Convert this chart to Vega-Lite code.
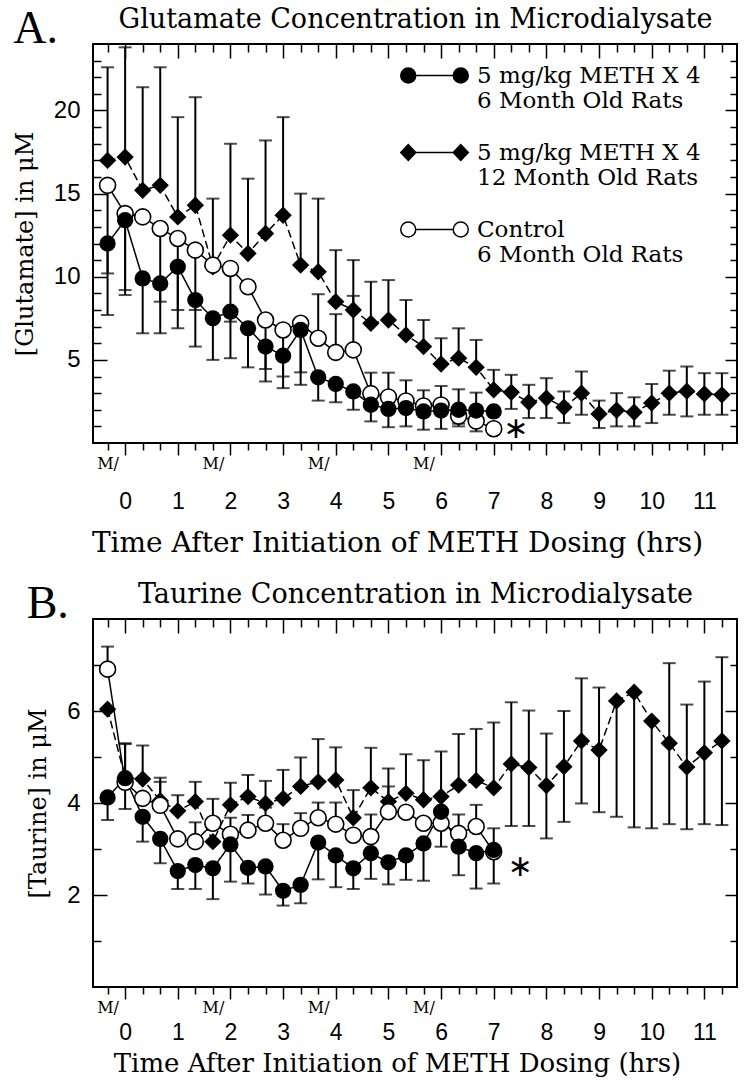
{
  "$schema": "https://vega.github.io/schema/vega-lite/v6.json",
  "background": "white",
  "padding": {"left": 12, "top": 4, "right": 0, "bottom": 0},
  "spacing": 21,
  "resolve": {"legend": {"shape": "independent", "fill": "independent"}},
  "config": {
    "view": {"stroke": "black", "strokeWidth": 2},
    "font": "DejaVu Serif"
  },
  "datasets": {
    "glu": [
      {"s":"m12","t":-0.3333,"v":17.0,"lo":17.0,"hi":22.6},
      {"s":"m12","t":0,"v":17.2,"lo":17.2,"hi":23.8},
      {"s":"m12","t":0.3333,"v":15.2,"lo":15.2,"hi":21.4},
      {"s":"m12","t":0.6667,"v":15.5,"lo":15.5,"hi":22.6},
      {"s":"m12","t":1,"v":13.6,"lo":13.6,"hi":19.6},
      {"s":"m12","t":1.3333,"v":14.3,"lo":14.3,"hi":20.8},
      {"s":"m12","t":1.6667,"v":10.6,"lo":10.6,"hi":14.7},
      {"s":"m12","t":2,"v":12.5,"lo":12.5,"hi":18.0},
      {"s":"m12","t":2.3333,"v":11.4,"lo":11.4,"hi":15.9},
      {"s":"m12","t":2.6667,"v":12.6,"lo":12.6,"hi":18.2},
      {"s":"m12","t":3,"v":13.7,"lo":13.7,"hi":19.6},
      {"s":"m12","t":3.3333,"v":10.7,"lo":10.7,"hi":15.0},
      {"s":"m12","t":3.6667,"v":10.3,"lo":10.3,"hi":14.7},
      {"s":"m12","t":4,"v":8.5,"lo":8.5,"hi":11.6},
      {"s":"m12","t":4.3333,"v":8.0,"lo":8.0,"hi":11.0},
      {"s":"m12","t":4.6667,"v":7.2,"lo":7.2,"hi":9.7},
      {"s":"m12","t":5,"v":7.4,"lo":7.4,"hi":9.8},
      {"s":"m12","t":5.3333,"v":6.5,"lo":6.5,"hi":8.6},
      {"s":"m12","t":5.6667,"v":5.8,"lo":5.8,"hi":7.4},
      {"s":"m12","t":6,"v":4.75,"lo":4.75,"hi":6.3},
      {"s":"m12","t":6.3333,"v":5.1,"lo":5.1,"hi":6.9},
      {"s":"m12","t":6.6667,"v":4.55,"lo":4.55,"hi":6.2},
      {"s":"m12","t":7,"v":3.2,"lo":3.2,"hi":4.4},
      {"s":"m12","t":7.3333,"v":3.05,"lo":2.05,"hi":4.1},
      {"s":"m12","t":7.6667,"v":2.45,"lo":1.5,"hi":3.5},
      {"s":"m12","t":8,"v":2.7,"lo":1.5,"hi":3.9},
      {"s":"m12","t":8.3333,"v":2.15,"lo":1.2,"hi":3.1},
      {"s":"m12","t":8.6667,"v":3.0,"lo":1.7,"hi":4.3},
      {"s":"m12","t":9,"v":1.75,"lo":0.9,"hi":2.55},
      {"s":"m12","t":9.3333,"v":1.97,"lo":1.0,"hi":3.0},
      {"s":"m12","t":9.6667,"v":1.85,"lo":1.0,"hi":2.75},
      {"s":"m12","t":10,"v":2.4,"lo":1.2,"hi":3.55},
      {"s":"m12","t":10.3333,"v":3.0,"lo":1.7,"hi":4.35},
      {"s":"m12","t":10.6667,"v":3.12,"lo":1.6,"hi":4.6},
      {"s":"m12","t":11,"v":2.95,"lo":1.7,"hi":4.2},
      {"s":"m12","t":11.3333,"v":2.9,"lo":1.7,"hi":4.2},
      {"s":"m6","t":-0.3333,"v":12.0,"lo":7.7,"hi":12.0},
      {"s":"m6","t":0,"v":13.4,"lo":8.9,"hi":13.4},
      {"s":"m6","t":0.3333,"v":9.9,"lo":6.6,"hi":9.9},
      {"s":"m6","t":0.6667,"v":9.6,"lo":6.6,"hi":9.6},
      {"s":"m6","t":1,"v":10.6,"lo":6.9,"hi":10.6},
      {"s":"m6","t":1.3333,"v":8.6,"lo":5.8,"hi":8.6},
      {"s":"m6","t":1.6667,"v":7.5,"lo":5.0,"hi":7.5},
      {"s":"m6","t":2,"v":7.9,"lo":5.1,"hi":7.9},
      {"s":"m6","t":2.3333,"v":6.9,"lo":4.55,"hi":6.9},
      {"s":"m6","t":2.6667,"v":5.8,"lo":3.7,"hi":5.8},
      {"s":"m6","t":3,"v":5.25,"lo":3.3,"hi":5.25},
      {"s":"m6","t":3.3333,"v":6.8,"lo":3.5,"hi":6.8},
      {"s":"m6","t":3.6667,"v":3.95,"lo":2.55,"hi":3.95},
      {"s":"m6","t":4,"v":3.55,"lo":2.45,"hi":3.55},
      {"s":"m6","t":4.3333,"v":3.1,"lo":2.0,"hi":3.1},
      {"s":"m6","t":4.6667,"v":2.3,"lo":1.3,"hi":2.3},
      {"s":"m6","t":5,"v":2.05,"lo":0.95,"hi":2.05},
      {"s":"m6","t":5.3333,"v":2.1,"lo":1.0,"hi":2.1},
      {"s":"m6","t":5.6667,"v":1.9,"lo":0.8,"hi":1.9},
      {"s":"m6","t":6,"v":1.95,"lo":0.85,"hi":1.95},
      {"s":"m6","t":6.3333,"v":2.0,"lo":1.0,"hi":2.0},
      {"s":"m6","t":6.6667,"v":1.95,"lo":0.7,"hi":1.95},
      {"s":"m6","t":7,"v":1.9,"lo":1.9,"hi":1.9},
      {"s":"ctl","t":-0.3333,"v":15.5,"lo":10.2,"hi":15.5},
      {"s":"ctl","t":0,"v":13.8,"lo":9.2,"hi":13.8},
      {"s":"ctl","t":0.3333,"v":13.6,"lo":13.6,"hi":13.6},
      {"s":"ctl","t":0.6667,"v":12.9,"lo":8.5,"hi":12.9},
      {"s":"ctl","t":1,"v":12.3,"lo":8.0,"hi":12.3},
      {"s":"ctl","t":1.3333,"v":11.6,"lo":8.0,"hi":11.6},
      {"s":"ctl","t":1.6667,"v":10.7,"lo":10.7,"hi":10.7},
      {"s":"ctl","t":2,"v":10.5,"lo":7.3,"hi":10.5},
      {"s":"ctl","t":2.3333,"v":9.4,"lo":9.4,"hi":9.4},
      {"s":"ctl","t":2.6667,"v":7.4,"lo":4.45,"hi":7.4},
      {"s":"ctl","t":3,"v":6.8,"lo":4.0,"hi":6.8},
      {"s":"ctl","t":3.3333,"v":7.2,"lo":4.25,"hi":7.2},
      {"s":"ctl","t":3.6667,"v":6.3,"lo":6.3,"hi":8.95},
      {"s":"ctl","t":4,"v":5.45,"lo":5.45,"hi":7.75},
      {"s":"ctl","t":4.3333,"v":5.6,"lo":5.6,"hi":8.85},
      {"s":"ctl","t":4.6667,"v":2.97,"lo":2.97,"hi":4.23},
      {"s":"ctl","t":5,"v":2.77,"lo":2.77,"hi":4.23},
      {"s":"ctl","t":5.3333,"v":2.53,"lo":2.53,"hi":3.77},
      {"s":"ctl","t":5.6667,"v":2.23,"lo":2.23,"hi":3.17},
      {"s":"ctl","t":6,"v":2.29,"lo":2.29,"hi":3.43},
      {"s":"ctl","t":6.3333,"v":1.62,"lo":1.16,"hi":3.23},
      {"s":"ctl","t":6.6667,"v":1.32,"lo":1.32,"hi":3.03},
      {"s":"ctl","t":7,"v":0.86,"lo":0.86,"hi":0.86}
    ],
    "tau": [
      {"s":"m12","t":-0.3333,"v":6.04,"lo":6.04,"hi":6.04},
      {"s":"m12","t":0,"v":4.55,"lo":4.55,"hi":5.3},
      {"s":"m12","t":0.3333,"v":4.52,"lo":4.52,"hi":5.25},
      {"s":"m12","t":0.6667,"v":4.05,"lo":4.05,"hi":4.55},
      {"s":"m12","t":1,"v":3.83,"lo":3.83,"hi":4.17},
      {"s":"m12","t":1.3333,"v":4.03,"lo":4.03,"hi":4.46},
      {"s":"m12","t":1.6667,"v":3.16,"lo":3.16,"hi":3.16},
      {"s":"m12","t":2,"v":3.96,"lo":3.96,"hi":4.44},
      {"s":"m12","t":2.3333,"v":4.14,"lo":4.14,"hi":4.61},
      {"s":"m12","t":2.6667,"v":3.99,"lo":3.99,"hi":4.48},
      {"s":"m12","t":3,"v":4.1,"lo":4.1,"hi":4.72},
      {"s":"m12","t":3.3333,"v":4.36,"lo":4.36,"hi":4.99},
      {"s":"m12","t":3.6667,"v":4.46,"lo":4.46,"hi":5.39},
      {"s":"m12","t":4,"v":4.5,"lo":4.5,"hi":5.21},
      {"s":"m12","t":4.3333,"v":3.68,"lo":3.68,"hi":4.28},
      {"s":"m12","t":4.6667,"v":4.33,"lo":4.33,"hi":5.2},
      {"s":"m12","t":5,"v":4.03,"lo":4.03,"hi":4.75},
      {"s":"m12","t":5.3333,"v":4.21,"lo":4.21,"hi":5.06},
      {"s":"m12","t":5.6667,"v":4.07,"lo":4.07,"hi":4.93},
      {"s":"m12","t":6,"v":4.14,"lo":4.14,"hi":5.12},
      {"s":"m12","t":6.3333,"v":4.39,"lo":4.39,"hi":5.5},
      {"s":"m12","t":6.6667,"v":4.49,"lo":4.49,"hi":5.61},
      {"s":"m12","t":7,"v":4.33,"lo":4.33,"hi":5.75},
      {"s":"m12","t":7.3333,"v":4.85,"lo":3.5,"hi":6.19},
      {"s":"m12","t":7.6667,"v":4.77,"lo":3.5,"hi":6.01},
      {"s":"m12","t":8,"v":4.38,"lo":3.23,"hi":5.51},
      {"s":"m12","t":8.3333,"v":4.79,"lo":3.59,"hi":6.0},
      {"s":"m12","t":8.6667,"v":5.35,"lo":3.99,"hi":6.71},
      {"s":"m12","t":9,"v":5.15,"lo":3.8,"hi":6.51},
      {"s":"m12","t":9.3333,"v":6.22,"lo":3.7,"hi":6.22},
      {"s":"m12","t":9.6667,"v":6.41,"lo":3.47,"hi":6.41},
      {"s":"m12","t":10,"v":5.78,"lo":3.45,"hi":5.78},
      {"s":"m12","t":10.3333,"v":5.3,"lo":3.54,"hi":7.04},
      {"s":"m12","t":10.6667,"v":4.78,"lo":3.43,"hi":6.14},
      {"s":"m12","t":11,"v":5.09,"lo":3.54,"hi":6.64},
      {"s":"m12","t":11.3333,"v":5.35,"lo":3.52,"hi":7.17},
      {"s":"m6","t":-0.3333,"v":4.12,"lo":3.63,"hi":4.12},
      {"s":"m6","t":0,"v":4.54,"lo":3.87,"hi":4.54},
      {"s":"m6","t":0.3333,"v":3.7,"lo":3.16,"hi":3.7},
      {"s":"m6","t":0.6667,"v":3.22,"lo":2.69,"hi":3.22},
      {"s":"m6","t":1,"v":2.52,"lo":2.13,"hi":2.52},
      {"s":"m6","t":1.3333,"v":2.65,"lo":2.13,"hi":2.65},
      {"s":"m6","t":1.6667,"v":2.58,"lo":1.91,"hi":2.58},
      {"s":"m6","t":2,"v":3.1,"lo":2.29,"hi":3.1},
      {"s":"m6","t":2.3333,"v":2.59,"lo":2.25,"hi":2.59},
      {"s":"m6","t":2.6667,"v":2.62,"lo":2.01,"hi":2.62},
      {"s":"m6","t":3,"v":2.09,"lo":1.77,"hi":2.09},
      {"s":"m6","t":3.3333,"v":2.22,"lo":1.82,"hi":2.22},
      {"s":"m6","t":3.6667,"v":3.14,"lo":2.34,"hi":3.14},
      {"s":"m6","t":4,"v":2.86,"lo":2.17,"hi":2.86},
      {"s":"m6","t":4.3333,"v":2.58,"lo":2.13,"hi":2.58},
      {"s":"m6","t":4.6667,"v":2.91,"lo":2.35,"hi":2.91},
      {"s":"m6","t":5,"v":2.71,"lo":2.23,"hi":2.71},
      {"s":"m6","t":5.3333,"v":2.86,"lo":2.33,"hi":2.86},
      {"s":"m6","t":5.6667,"v":3.12,"lo":2.31,"hi":3.12},
      {"s":"m6","t":6,"v":3.81,"lo":3.05,"hi":3.81},
      {"s":"m6","t":6.3333,"v":3.05,"lo":2.43,"hi":3.05},
      {"s":"m6","t":6.6667,"v":2.91,"lo":2.14,"hi":2.91},
      {"s":"m6","t":7,"v":2.98,"lo":2.25,"hi":2.98},
      {"s":"ctl","t":-0.3333,"v":6.91,"lo":6.91,"hi":7.4},
      {"s":"ctl","t":0,"v":4.45,"lo":4.45,"hi":5.28},
      {"s":"ctl","t":0.3333,"v":4.1,"lo":4.1,"hi":4.1},
      {"s":"ctl","t":0.6667,"v":3.95,"lo":3.95,"hi":4.46},
      {"s":"ctl","t":1,"v":3.22,"lo":3.22,"hi":3.22},
      {"s":"ctl","t":1.3333,"v":3.16,"lo":3.16,"hi":3.58},
      {"s":"ctl","t":1.6667,"v":3.56,"lo":3.56,"hi":4.09},
      {"s":"ctl","t":2,"v":3.32,"lo":3.32,"hi":3.68},
      {"s":"ctl","t":2.3333,"v":3.41,"lo":3.41,"hi":3.74},
      {"s":"ctl","t":2.6667,"v":3.56,"lo":3.56,"hi":3.9},
      {"s":"ctl","t":3,"v":3.19,"lo":3.19,"hi":3.54},
      {"s":"ctl","t":3.3333,"v":3.45,"lo":3.45,"hi":3.78},
      {"s":"ctl","t":3.6667,"v":3.68,"lo":3.68,"hi":4.01},
      {"s":"ctl","t":4,"v":3.54,"lo":3.54,"hi":4.01},
      {"s":"ctl","t":4.3333,"v":3.3,"lo":3.3,"hi":3.3},
      {"s":"ctl","t":4.6667,"v":3.27,"lo":3.27,"hi":3.75},
      {"s":"ctl","t":5,"v":3.81,"lo":3.81,"hi":4.36},
      {"s":"ctl","t":5.3333,"v":3.8,"lo":3.8,"hi":3.8},
      {"s":"ctl","t":5.6667,"v":3.56,"lo":3.56,"hi":3.56},
      {"s":"ctl","t":6,"v":3.56,"lo":3.56,"hi":3.56},
      {"s":"ctl","t":6.3333,"v":3.34,"lo":3.34,"hi":3.75},
      {"s":"ctl","t":6.6667,"v":3.49,"lo":3.49,"hi":3.96},
      {"s":"ctl","t":7,"v":2.94,"lo":2.94,"hi":3.45}
    ],
    "notes": [
      {"p":"A","t":7.42,"v":0.85,"label":"∗"},
      {"p":"B","t":7.5,"v":2.6,"label":"∗"}
    ]
  },
  "vconcat": [
    {
      "title": {"text": "A.", "anchor": "start", "frame": "bounds", "font": "Liberation Serif", "fontSize": 46, "fontWeight": "normal", "color": "black", "offset": -48},
      "width": 644,
      "height": 399,
      "data": {"name": "glu"},
      "resolve": {"axis": {"x": "independent", "y": "independent"}},
      "layer": [
        {
          "mark": {"type": "line", "color": "black", "strokeWidth": 1.5},
          "encoding": {
            "x": {"field": "t", "type": "quantitative", "scale": {"domain": [-0.61, 11.62], "nice": false},
              "axis": {"orient": "bottom", "values": [-0.3333,0,0.3333,0.6667,1,1.3333,1.6667,2,2.3333,2.6667,3,3.3333,3.6667,4,4.3333,4.6667,5,5.3333,5.6667,6,6.3333,6.6667,7,7.3333,7.6667,8,8.3333,8.6667,9,9.3333,9.6667,10,10.3333,10.6667,11,11.3333],
                "domain": false, "grid": false,
                "tickSize": {"condition": {"test": "abs(datum.value - round(datum.value)) < 0.01", "value": 12}, "value": 7},
                "tickWidth": 1.5, "tickColor": "black",
                "labelExpr": "abs(datum.value - round(datum.value)) < 0.01 ? ['', format(datum.value, 'd')] : (abs(datum.value - round(datum.value) + 0.3333) < 0.01 && round(datum.value) % 2 == 0 && datum.value < 6) ? ['M/', ''] : ''",
                "labelFont": {"condition": {"test": "abs(datum.value - round(datum.value)) < 0.01", "value": "Liberation Sans"}, "value": "DejaVu Serif"},
                "labelFontSize": {"condition": {"test": "abs(datum.value - round(datum.value)) < 0.01", "value": 23}, "value": 16},
                "labelLineHeight": 30, "labelBaseline": "top", "labelAlign": "center", "labelPadding": 5,
                "labelOverlap": false, "labelFlush": false, "labelBound": false, "labelColor": "black",
                "title": "Time After Initiation of METH Dosing (hrs)", "titleFont": "DejaVu Serif", "titleFontSize": 28, "titleFontWeight": "normal", "titleColor": "black", "titlePadding": 16, "titleX": 304}},
            "y": {"field": "v", "type": "quantitative", "scale": {"domain": [0, 24], "nice": false},
              "axis": {"orient": "left", "values": [1,2,3,4,5,6,7,8,9,10,11,12,13,14,15,16,17,18,19,20,21,22,23],
                "domain": false, "grid": false,
                "tickSize": {"condition": {"test": "datum.value % 5 == 0", "value": -14}, "value": -8},
                "tickWidth": 1.5, "tickColor": "black",
                "labelExpr": "datum.value % 5 == 0 ? datum.label : ''",
                "labelPadding": 27, "labelFont": "Liberation Sans", "labelFontSize": 24, "labelColor": "black", "labelOverlap": false, "labelFlush": false,
                "title": "[Glutamate] in μM", "titleFont": "DejaVu Serif", "titleFontSize": 24, "titleFontWeight": "normal", "titleColor": "black", "titlePadding": 16}},
            "strokeDash": {"field": "s", "type": "nominal", "scale": {"domain": ["m6", "m12", "ctl"], "range": [[1, 0], [8, 4], [1, 0]]}, "legend": null}
          }
        },
        {
          "mark": {"type": "rule", "color": "black", "strokeWidth": 2},
          "encoding": {
            "x": {"field": "t", "type": "quantitative", "scale": {"domain": [-0.61, 11.62], "nice": false},
              "axis": {"orient": "top", "values": [-0.3333,0,0.3333,0.6667,1,1.3333,1.6667,2,2.3333,2.6667,3,3.3333,3.6667,4,4.3333,4.6667,5,5.3333,5.6667,6,6.3333,6.6667,7,7.3333,7.6667,8,8.3333,8.6667,9,9.3333,9.6667,10,10.3333,10.6667,11,11.3333],
                "domain": false, "grid": false, "labels": false,
                "tickSize": {"condition": {"test": "abs(datum.value - round(datum.value)) < 0.01", "value": -14}, "value": -8},
                "tickWidth": 1.5, "tickColor": "black",
                "title": "Glutamate Concentration in Microdialysate", "titleFont": "DejaVu Serif", "titleFontSize": 27, "titleFontWeight": "normal", "titleColor": "black", "titlePadding": 10}},
            "y": {"field": "lo", "type": "quantitative", "scale": {"domain": [0, 24], "nice": false},
              "axis": {"orient": "right", "values": [1,2,3,4,5,6,7,8,9,10,11,12,13,14,15,16,17,18,19,20,21,22,23],
                "domain": false, "grid": false, "labels": false, "title": null,
                "tickSize": {"condition": {"test": "datum.value % 5 == 0", "value": -12}, "value": -7},
                "tickWidth": 1.5, "tickColor": "black"}},
            "y2": {"field": "hi"}
          }
        },
        {
          "transform": [{"filter": "datum.hi > datum.v"}],
          "mark": {"type": "tick", "orient": "horizontal", "color": "black", "size": 13, "thickness": 2},
          "encoding": {
            "x": {"field": "t", "type": "quantitative", "axis": null, "scale": {"domain": [-0.61, 11.62], "nice": false}},
            "y": {"field": "hi", "type": "quantitative", "axis": null, "scale": {"domain": [0, 24], "nice": false}}
          }
        },
        {
          "transform": [{"filter": "datum.lo < datum.v"}],
          "mark": {"type": "tick", "orient": "horizontal", "color": "black", "size": 13, "thickness": 2},
          "encoding": {
            "x": {"field": "t", "type": "quantitative", "axis": null, "scale": {"domain": [-0.61, 11.62], "nice": false}},
            "y": {"field": "lo", "type": "quantitative", "axis": null, "scale": {"domain": [0, 24], "nice": false}}
          }
        },
        {
          "transform": [{"filter": "datum.s == 'm12'"}],
          "mark": {"type": "point", "shape": "diamond", "filled": true, "color": "black", "size": 300, "opacity": 1},
          "encoding": {
            "x": {"field": "t", "type": "quantitative", "axis": null, "scale": {"domain": [-0.61, 11.62], "nice": false}},
            "y": {"field": "v", "type": "quantitative", "axis": null, "scale": {"domain": [0, 24], "nice": false}}
          }
        },
        {
          "transform": [{"filter": "datum.s == 'ctl'"}],
          "mark": {"type": "point", "shape": "circle", "filled": true, "fill": "white", "stroke": "black", "strokeWidth": 1.6, "size": 255, "opacity": 1},
          "encoding": {
            "x": {"field": "t", "type": "quantitative", "axis": null, "scale": {"domain": [-0.61, 11.62], "nice": false}},
            "y": {"field": "v", "type": "quantitative", "axis": null, "scale": {"domain": [0, 24], "nice": false}}
          }
        },
        {
          "transform": [{"filter": "datum.s == 'm6'"}],
          "mark": {"type": "point", "shape": "circle", "filled": true, "color": "black", "size": 265, "opacity": 1},
          "encoding": {
            "x": {"field": "t", "type": "quantitative", "axis": null, "scale": {"domain": [-0.61, 11.62], "nice": false}},
            "y": {"field": "v", "type": "quantitative", "axis": null, "scale": {"domain": [0, 24], "nice": false}}
          }
        },
        {
          "mark": {"type": "point", "stroke": "black", "strokeWidth": 1.5, "opacity": 0},
          "encoding": {
            "x": {"field": "t", "type": "quantitative", "axis": null, "scale": {"domain": [-0.61, 11.62], "nice": false}},
            "y": {"field": "v", "type": "quantitative", "axis": null, "scale": {"domain": [0, 24], "nice": false}},
            "shape": {"field": "s", "type": "nominal",
              "scale": {"domain": ["m6", "m12", "ctl"], "range": [
                "M-4.5,0 C-4.5,-0.5523 -4.0523,-1 -3.5,-1 C-2.9477,-1 -2.5,-0.5523 -2.5,0 C-2.5,0.5523 -2.9477,1 -3.5,1 C-4.0523,1 -4.5,0.5523 -4.5,0 Z M-2.5,0 L2.5,0 M2.5,0 C2.5,-0.5523 2.9477,-1 3.5,-1 C4.0523,-1 4.5,-0.5523 4.5,0 C4.5,0.5523 4.0523,1 3.5,1 C2.9477,1 2.5,0.5523 2.5,0 Z",
                "M-4.5,0 L-3.5,-1.05 L-2.5,0 L-3.5,1.05 Z M-2.5,0 L2.5,0 M2.5,0 L3.5,-1.05 L4.5,0 L3.5,1.05 Z",
                "M-4.5,0 C-4.5,-0.5523 -4.0523,-1 -3.5,-1 C-2.9477,-1 -2.5,-0.5523 -2.5,0 C-2.5,0.5523 -2.9477,1 -3.5,1 C-4.0523,1 -4.5,0.5523 -4.5,0 Z M-2.5,0 L2.5,0 M2.5,0 C2.5,-0.5523 2.9477,-1 3.5,-1 C4.0523,-1 4.5,-0.5523 4.5,0 C4.5,0.5523 4.0523,1 3.5,1 C2.9477,1 2.5,0.5523 2.5,0 Z"
              ]},
              "legend": {"title": null, "orient": "none", "legendX": 330, "legendY": 20, "padding": 0, "rowPadding": 28,
                "symbolSize": 225, "symbolStrokeColor": "black", "symbolStrokeWidth": 1.5, "symbolOpacity": 1,
                "labelOffset": 31, "labelLimit": 500, "labelFont": "DejaVu Serif", "labelFontSize": 23, "labelColor": "black",
                "labelExpr": "datum.label == 'm6' ? ['5 mg/kg METH X 4', '6 Month Old Rats'] : datum.label == 'm12' ? ['5 mg/kg METH X 4', '12 Month Old Rats'] : ['Control', '6 Month Old Rats']",
                "encoding": {"labels": {"lineHeight": {"value": 25}}, "symbols": {"stroke": {"value": "black"}, "strokeWidth": {"value": 1.5}, "opacity": {"value": 1}}}}},
            "fill": {"field": "s", "type": "nominal",
              "scale": {"domain": ["m6", "m12", "ctl"], "range": ["black", "black", "white"]},
              "legend": {"title": null, "orient": "none", "legendX": 330, "legendY": 20, "padding": 0, "rowPadding": 28,
                "symbolSize": 225, "symbolStrokeColor": "black", "symbolStrokeWidth": 1.5, "symbolOpacity": 1,
                "labelOffset": 31, "labelLimit": 500, "labelFont": "DejaVu Serif", "labelFontSize": 23, "labelColor": "black",
                "labelExpr": "datum.label == 'm6' ? ['5 mg/kg METH X 4', '6 Month Old Rats'] : datum.label == 'm12' ? ['5 mg/kg METH X 4', '12 Month Old Rats'] : ['Control', '6 Month Old Rats']",
                "encoding": {"labels": {"lineHeight": {"value": 25}}, "symbols": {"stroke": {"value": "black"}, "strokeWidth": {"value": 1.5}, "opacity": {"value": 1}}}}}
          }
        },
        {
          "data": {"name": "notes"},
          "transform": [{"filter": "datum.p == 'A'"}],
          "mark": {"type": "text", "font": "DejaVu Sans", "fontSize": 30, "align": "center", "baseline": "middle", "color": "black"},
          "encoding": {
            "x": {"field": "t", "type": "quantitative", "axis": null, "scale": {"domain": [-0.61, 11.62], "nice": false}},
            "y": {"field": "v", "type": "quantitative", "axis": null, "scale": {"domain": [0, 24], "nice": false}},
            "text": {"field": "label"}
          }
        }
      ]
    },
    {
      "title": {"text": "B.", "anchor": "start", "frame": "bounds", "font": "Liberation Serif", "fontSize": 46, "fontWeight": "normal", "color": "black", "offset": -48},
      "width": 644,
      "height": 368,
      "data": {"name": "tau"},
      "resolve": {"axis": {"x": "independent", "y": "independent"}},
      "layer": [
        {
          "mark": {"type": "line", "color": "black", "strokeWidth": 1.5},
          "encoding": {
            "x": {"field": "t", "type": "quantitative", "scale": {"domain": [-0.61, 11.62], "nice": false},
              "axis": {"orient": "bottom", "values": [-0.3333,0,0.3333,0.6667,1,1.3333,1.6667,2,2.3333,2.6667,3,3.3333,3.6667,4,4.3333,4.6667,5,5.3333,5.6667,6,6.3333,6.6667,7,7.3333,7.6667,8,8.3333,8.6667,9,9.3333,9.6667,10,10.3333,10.6667,11,11.3333],
                "domain": false, "grid": false,
                "tickSize": {"condition": {"test": "abs(datum.value - round(datum.value)) < 0.01", "value": 12}, "value": 7},
                "tickWidth": 1.5, "tickColor": "black",
                "labelExpr": "abs(datum.value - round(datum.value)) < 0.01 ? ['', format(datum.value, 'd')] : (abs(datum.value - round(datum.value) + 0.3333) < 0.01 && round(datum.value) % 2 == 0 && datum.value < 6) ? ['M/', ''] : ''",
                "labelFont": {"condition": {"test": "abs(datum.value - round(datum.value)) < 0.01", "value": "Liberation Sans"}, "value": "DejaVu Serif"},
                "labelFontSize": {"condition": {"test": "abs(datum.value - round(datum.value)) < 0.01", "value": 23}, "value": 16},
                "labelLineHeight": 17, "labelBaseline": "top", "labelAlign": "center", "labelPadding": 5,
                "labelOverlap": false, "labelFlush": false, "labelBound": false, "labelColor": "black",
                "title": "Time After Initiation of METH Dosing (hrs)", "titleFont": "DejaVu Serif", "titleFontSize": 26, "titleFontWeight": "normal", "titleColor": "black", "titlePadding": 6, "titleX": 304}},
            "y": {"field": "v", "type": "quantitative", "scale": {"domain": [0, 8], "nice": false},
              "axis": {"orient": "left", "values": [1,2,3,4,5,6,7],
                "domain": false, "grid": false,
                "tickSize": {"condition": {"test": "datum.value % 2 == 0", "value": -14}, "value": -8},
                "tickWidth": 1.5, "tickColor": "black",
                "labelExpr": "datum.value % 2 == 0 ? datum.label : ''",
                "labelPadding": 27, "labelFont": "Liberation Sans", "labelFontSize": 24, "labelColor": "black", "labelOverlap": false, "labelFlush": false,
                "title": "[Taurine] in μM", "titleFont": "DejaVu Serif", "titleFontSize": 24, "titleFontWeight": "normal", "titleColor": "black", "titlePadding": 16}},
            "strokeDash": {"field": "s", "type": "nominal", "scale": {"domain": ["m6", "m12", "ctl"], "range": [[1, 0], [8, 4], [1, 0]]}, "legend": null}
          }
        },
        {
          "mark": {"type": "rule", "color": "black", "strokeWidth": 2},
          "encoding": {
            "x": {"field": "t", "type": "quantitative", "scale": {"domain": [-0.61, 11.62], "nice": false},
              "axis": {"orient": "top", "values": [-0.3333,0,0.3333,0.6667,1,1.3333,1.6667,2,2.3333,2.6667,3,3.3333,3.6667,4,4.3333,4.6667,5,5.3333,5.6667,6,6.3333,6.6667,7,7.3333,7.6667,8,8.3333,8.6667,9,9.3333,9.6667,10,10.3333,10.6667,11,11.3333],
                "domain": false, "grid": false, "labels": false,
                "tickSize": {"condition": {"test": "abs(datum.value - round(datum.value)) < 0.01", "value": -14}, "value": -8},
                "tickWidth": 1.5, "tickColor": "black",
                "title": "Taurine Concentration in Microdialysate", "titleFont": "DejaVu Serif", "titleFontSize": 27, "titleFontWeight": "normal", "titleColor": "black", "titlePadding": 10}},
            "y": {"field": "lo", "type": "quantitative", "scale": {"domain": [0, 8], "nice": false},
              "axis": {"orient": "right", "values": [1,2,3,4,5,6,7],
                "domain": false, "grid": false, "labels": false, "title": null,
                "tickSize": {"condition": {"test": "datum.value % 2 == 0", "value": -12}, "value": -7},
                "tickWidth": 1.5, "tickColor": "black"}},
            "y2": {"field": "hi"}
          }
        },
        {
          "transform": [{"filter": "datum.hi > datum.v"}],
          "mark": {"type": "tick", "orient": "horizontal", "color": "black", "size": 13, "thickness": 2},
          "encoding": {
            "x": {"field": "t", "type": "quantitative", "axis": null, "scale": {"domain": [-0.61, 11.62], "nice": false}},
            "y": {"field": "hi", "type": "quantitative", "axis": null, "scale": {"domain": [0, 8], "nice": false}}
          }
        },
        {
          "transform": [{"filter": "datum.lo < datum.v"}],
          "mark": {"type": "tick", "orient": "horizontal", "color": "black", "size": 13, "thickness": 2},
          "encoding": {
            "x": {"field": "t", "type": "quantitative", "axis": null, "scale": {"domain": [-0.61, 11.62], "nice": false}},
            "y": {"field": "lo", "type": "quantitative", "axis": null, "scale": {"domain": [0, 8], "nice": false}}
          }
        },
        {
          "transform": [{"filter": "datum.s == 'm12'"}],
          "mark": {"type": "point", "shape": "diamond", "filled": true, "color": "black", "size": 300, "opacity": 1},
          "encoding": {
            "x": {"field": "t", "type": "quantitative", "axis": null, "scale": {"domain": [-0.61, 11.62], "nice": false}},
            "y": {"field": "v", "type": "quantitative", "axis": null, "scale": {"domain": [0, 8], "nice": false}}
          }
        },
        {
          "transform": [{"filter": "datum.s == 'ctl'"}],
          "mark": {"type": "point", "shape": "circle", "filled": true, "fill": "white", "stroke": "black", "strokeWidth": 1.6, "size": 255, "opacity": 1},
          "encoding": {
            "x": {"field": "t", "type": "quantitative", "axis": null, "scale": {"domain": [-0.61, 11.62], "nice": false}},
            "y": {"field": "v", "type": "quantitative", "axis": null, "scale": {"domain": [0, 8], "nice": false}}
          }
        },
        {
          "transform": [{"filter": "datum.s == 'm6'"}],
          "mark": {"type": "point", "shape": "circle", "filled": true, "color": "black", "size": 265, "opacity": 1},
          "encoding": {
            "x": {"field": "t", "type": "quantitative", "axis": null, "scale": {"domain": [-0.61, 11.62], "nice": false}},
            "y": {"field": "v", "type": "quantitative", "axis": null, "scale": {"domain": [0, 8], "nice": false}}
          }
        },
        {
          "data": {"name": "notes"},
          "transform": [{"filter": "datum.p == 'B'"}],
          "mark": {"type": "text", "font": "DejaVu Sans", "fontSize": 30, "align": "center", "baseline": "middle", "color": "black"},
          "encoding": {
            "x": {"field": "t", "type": "quantitative", "axis": null, "scale": {"domain": [-0.61, 11.62], "nice": false}},
            "y": {"field": "v", "type": "quantitative", "axis": null, "scale": {"domain": [0, 8], "nice": false}},
            "text": {"field": "label"}
          }
        }
      ]
    }
  ]
}
